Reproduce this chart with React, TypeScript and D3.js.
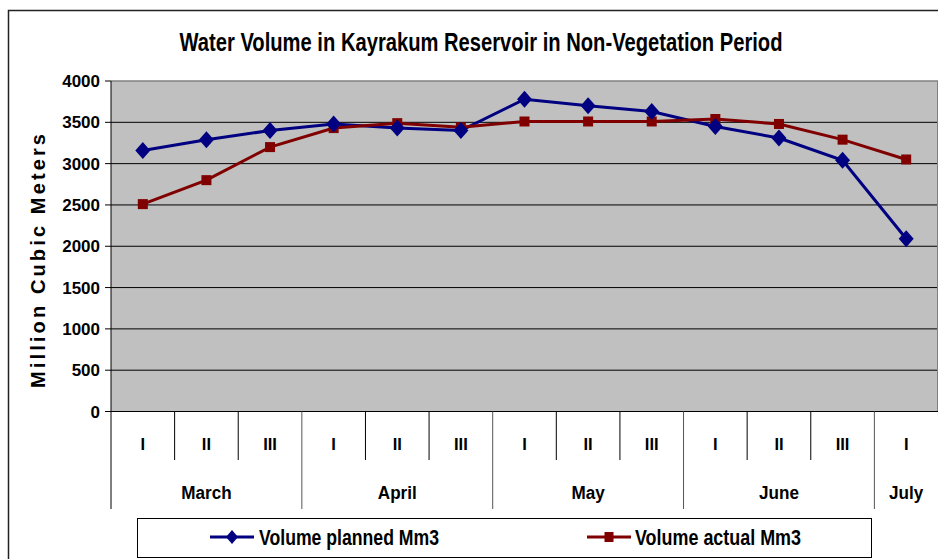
import React from "react";
import * as d3 from "d3";

const periods = ["I", "II", "III", "I", "II", "III", "I", "II", "III", "I", "II", "III", "I"];
const monthNames = ["March", "April", "May", "June", "July"];
const monthSpans = [3, 3, 3, 3, 1];
const planned = [3160, 3290, 3400, 3480, 3430, 3400, 3780, 3700, 3630, 3450, 3310, 3040, 2090];
const actual = [2510, 2800, 3200, 3430, 3490, 3440, 3510, 3510, 3510, 3540, 3480, 3290, 3050];
const yTicks = [0, 500, 1000, 1500, 2000, 2500, 3000, 3500, 4000];

const W = 938;
const H = 559;
const plot = { left: 111, right: 938, top: 81, bottom: 411.5 };
const font = "'Liberation Sans', Arial, sans-serif";
const blue = "#000080";
const red = "#800000";

const App = () => {
  const idx = periods.map((_, i) => i);
  const x = d3.scaleBand<number>().domain(idx).range([plot.left, plot.right]).padding(0);
  const y = d3.scaleLinear().domain([0, 4000]).range([plot.bottom, plot.top]);
  const cx = (i: number) => (x(i) as number) + x.bandwidth() / 2;

  const line = d3
    .line<number>()
    .x((_, i) => cx(i))
    .y(d => y(d));

  // month boundaries from the spans
  let acc = 0;
  const monthStarts = monthSpans.map(s => {
    const start = acc;
    acc += s;
    return start;
  });
  const edge = (i: number) => (i < periods.length ? (x(i) as number) : plot.right);

  const diamond = (px: number, py: number, w: number, h: number) =>
    `M${px},${py - h} L${px + w},${py} L${px},${py + h} L${px - w},${py} Z`;

  return (
    <svg
      width={W}
      height={H}
      style={{ position: "absolute", left: 0, top: 0, background: "#fff" }}
      fontFamily={font}
      fontWeight="bold"
    >
      {/* outer chart frame */}
      <path d={`M8.5,${H} L8.5,10.5 L${W},10.5`} fill="none" stroke="#222" strokeWidth={1.5} />

      <text x={481} y={51} fontSize={25} textAnchor="middle" textLength={603} lengthAdjust="spacingAndGlyphs" fill="#000">
        Water Volume in Kayrakum Reservoir in Non-Vegetation Period
      </text>

      {/* plot area */}
      <rect x={plot.left} y={plot.top} width={plot.right - plot.left} height={plot.bottom - plot.top} fill="#c0c0c0" />
      {yTicks.slice(1, -1).map(t => (
        <line key={t} x1={plot.left} x2={plot.right} y1={y(t)} y2={y(t)} stroke="#000" strokeWidth={1} />
      ))}
      <line x1={plot.left} x2={plot.right} y1={plot.top} y2={plot.top} stroke="#808080" strokeWidth={1.5} />
      <line x1={plot.right - 0.5} x2={plot.right - 0.5} y1={plot.top} y2={plot.bottom} stroke="#808080" strokeWidth={1} />

      {/* y axis */}
      <line x1={plot.left} x2={plot.left} y1={plot.top} y2={509} stroke="#000" strokeWidth={1} />
      {yTicks.map(t => (
        <g key={t}>
          <line x1={plot.left - 6} x2={plot.left} y1={y(t)} y2={y(t)} stroke="#000" />
          <text x={100} y={y(t)} dy="0.36em" fontSize={17} textAnchor="end" fill="#000">
            {t}
          </text>
        </g>
      ))}
      <text
        transform={`translate(45,261) rotate(-90)`}
        fontSize={20}
        textAnchor="middle"
        textLength={254}
        lengthAdjust="spacing"
        fill="#000"
      >
        Million Cubic Meters
      </text>

      {/* x axis */}
      <line x1={plot.left} x2={plot.right} y1={plot.bottom} y2={plot.bottom} stroke="#000" strokeWidth={1.2} />
      {idx.map(i => (
        <g key={i}>
          {i > 0 && !monthStarts.includes(i) && (
            <line x1={edge(i)} x2={edge(i)} y1={plot.bottom} y2={460} stroke="#000" />
          )}
          <text x={cx(i)} y={450} fontSize={16.5} textAnchor="middle" fill="#000">
            {periods[i]}
          </text>
        </g>
      ))}
      {monthNames.map((m, k) => {
        const a = edge(monthStarts[k]);
        const b = edge(monthStarts[k] + monthSpans[k]);
        return (
          <g key={m}>
            {k > 0 && <line x1={a} x2={a} y1={plot.bottom} y2={509} stroke="#555" />}
            <g transform={`translate(${(a + b) / 2},499) scale(0.9,1)`}>
              <text x={0} y={0} fontSize={19} textAnchor="middle" fill="#000">
                {m}
              </text>
            </g>
          </g>
        );
      })}

      {/* series */}
      <path d={line(planned) as string} fill="none" stroke={blue} strokeWidth={3} />
      <path d={line(actual) as string} fill="none" stroke={red} strokeWidth={3} />
      {actual.map((v, i) => (
        <rect key={"a" + i} x={cx(i) - 5} y={y(v) - 5} width={10} height={10} fill={red} />
      ))}
      {planned.map((v, i) => (
        <path key={"p" + i} d={diamond(cx(i), y(v), 7.5, 8.5)} fill={blue} />
      ))}

      {/* legend */}
      <rect x={137.5} y={518.5} width={734} height={39} fill="#fff" stroke="#000" />
      <line x1={210} x2={254} y1={537} y2={537} stroke={blue} strokeWidth={3} />
      <path d={diamond(232, 537, 6, 7)} fill={blue} />
      <text x={259} y={545} fontSize={22} textLength={180} lengthAdjust="spacingAndGlyphs" fill="#000">
        Volume planned Mm3
      </text>
      <line x1={587} x2={631} y1={537} y2={537} stroke={red} strokeWidth={3} />
      <rect x={604.5} y={532} width={9} height={10} fill={red} />
      <text x={635} y={545} fontSize={22} textLength={166} lengthAdjust="spacingAndGlyphs" fill="#000">
        Volume actual Mm3
      </text>
    </svg>
  );
};

export default App;
